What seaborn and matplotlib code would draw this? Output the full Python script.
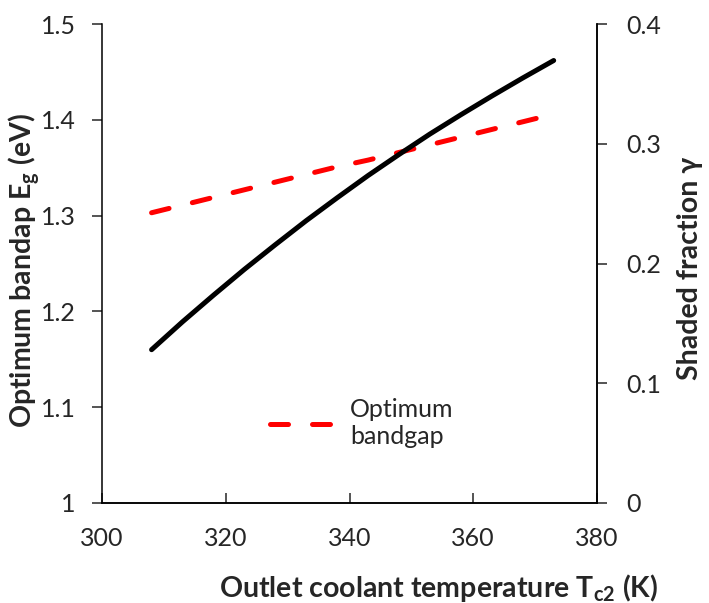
import pandas as pd
import seaborn as sns
import matplotlib.pyplot as plt

# outlet coolant temperature (K)
temp = [308, 313, 318, 323, 328, 333, 338, 343, 348, 353, 358, 363, 368, 373]
# optimum bandgap (eV), left axis
bandgap = [1.303, 1.311, 1.319, 1.327, 1.335, 1.343, 1.351, 1.358, 1.366, 1.374,
           1.382, 1.390, 1.398, 1.406]
# shaded fraction gamma, right axis
shaded = [0.128, 0.1513, 0.1735, 0.1951, 0.2157, 0.2358, 0.2549, 0.2735, 0.2911,
          0.3082, 0.3243, 0.3399, 0.3550, 0.3696]

df = pd.DataFrame({'T': temp, 'Eg': bandgap, 'gamma': shaded})

sns.set_style('ticks')
plt.rcParams['font.family'] = ['Lato', 'DejaVu Sans']
plt.rcParams['mathtext.fontset'] = 'custom'
plt.rcParams['mathtext.rm'] = 'Lato'
plt.rcParams['mathtext.bf'] = 'Lato:bold'

fig, ax = plt.subplots(figsize=(7.09, 6.03), dpi=100)
fig.subplots_adjust(left=0.144, right=0.842, bottom=0.166, top=0.960)
ax2 = ax.twinx()

# red dashed: optimum bandgap
sns.lineplot(data=df, x='T', y='Eg', ax=ax, color='#ff0000', linewidth=3.6,
             label='Optimum\nbandgap', dashes=False)
ln = ax.lines[0]
ln.set_dashes((3.6, 4.8))
ln.set_dash_capstyle('round')

# black solid: shaded fraction
sns.lineplot(data=df, x='T', y='gamma', ax=ax2, color='black', linewidth=3.6,
             legend=False)
ax2.lines[0].set_solid_capstyle('round')

ax.set_xlim(300, 380)
ax.set_ylim(1, 1.5)
ax2.set_ylim(0, 0.4)
ax.set_xticks([300, 320, 340, 360, 380])
ax.set_yticks([1, 1.1, 1.2, 1.3, 1.4, 1.5])
ax.set_yticklabels(['1', '1.1', '1.2', '1.3', '1.4', '1.5'])
ax2.set_yticks([0, 0.1, 0.2, 0.3, 0.4])
ax2.set_yticklabels(['0', '0.1', '0.2', '0.3', '0.4'])

for a in (ax, ax2):
    a.spines['top'].set_visible(False)
    for s in a.spines.values():
        s.set_linewidth(1.1)
        s.set_color('black')
ax2.spines['left'].set_visible(False)

ax.tick_params(axis='x', direction='in', length=7, width=1.1, pad=17,
               labelsize=18)
ax.tick_params(axis='y', direction='out', length=7, width=1.1, pad=12,
               labelsize=18)
ax2.tick_params(axis='y', direction='out', length=7, width=1.1, pad=14,
                labelsize=18)

ax.set_xlabel(r'Outlet coolant temperature T$_\mathbf{c2}$ (K)',
              fontsize=20.5, fontweight='bold', va='center')
ax.xaxis.set_label_coords(0.679, -0.177)
ax.set_ylabel(r'Optimum bandap E$_\mathbf{g}$ (eV)',
              fontsize=20.5, fontweight='bold', va='center')
ax.yaxis.set_label_coords(-0.156, 0.485)
ax2.set_ylabel('Shaded fraction γ', fontsize=20.5, fontweight='bold',
               va='center')
ax2.yaxis.set_label_coords(1.188, 0.49)

leg = ax.legend(loc='center left', bbox_to_anchor=(0.339, 0.167),
                frameon=False, fontsize=18, handlelength=2.8,
                handletextpad=0.4, borderpad=0, borderaxespad=0,
                labelspacing=0.2)

fig.savefig('out.png', dpi=100)
